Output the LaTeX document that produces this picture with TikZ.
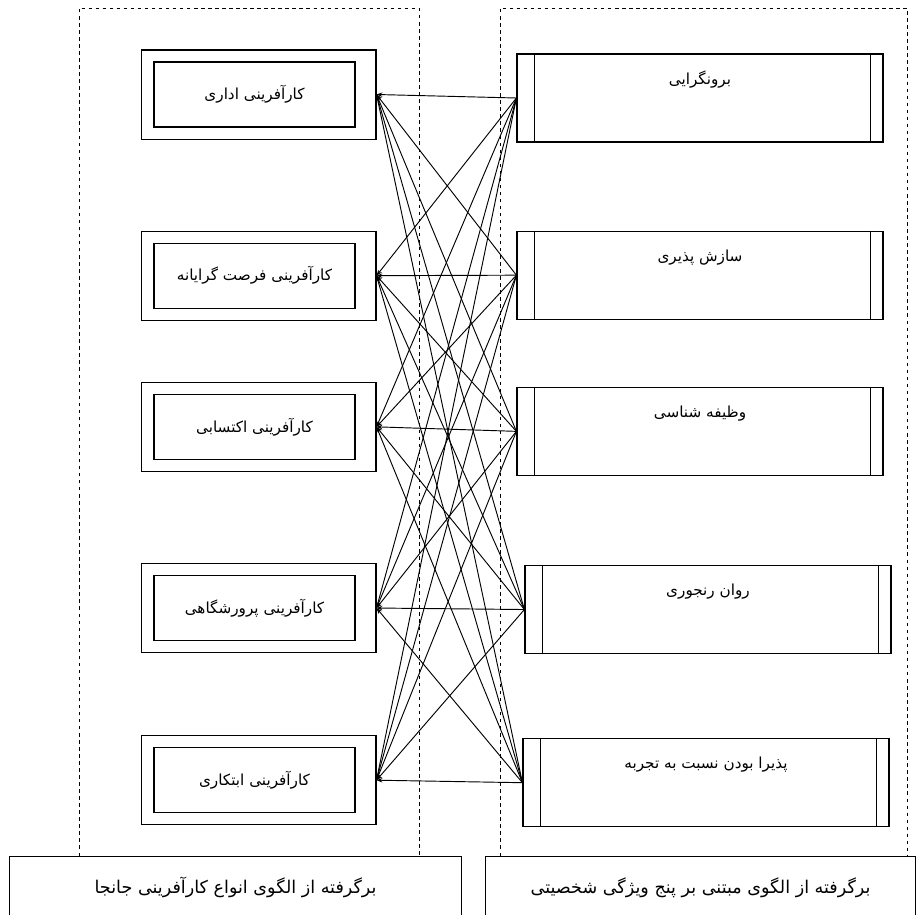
\documentclass[tikz,border=0pt]{standalone}
\usepackage{fontspec}
\newfontfamily\persianfont[Script=Arabic]{DejaVu Sans}
\TeXXeTstate=1
\newcommand{\fatxt}[1]{{\persianfont\beginR #1\endR}}
\usetikzlibrary{arrows.meta, positioning, fit}
\tikzset{
  kind/.style={rectangle, draw, line width=1pt, minimum width=6.03cm,
               minimum height=1.95cm, inner sep=0pt, align=center,
               font=\fontsize{13}{15}\selectfont},
  kindframe/.style={rectangle, draw, line width=1pt, xshift=0.13cm,
                    inner xsep=0.48cm, inner ysep=0.345cm},
  trait/.style={rectangle, draw, line width=1pt, minimum width=10.98cm,
                inner xsep=0pt, inner ysep=0.1cm, text height=0.8cm,
                text depth=1.64cm, font=\fontsize{13}{15}\selectfont},
  source/.style={rectangle, draw, line width=1pt, anchor=north west,
                 inner xsep=0pt, inner ysep=0.1cm, text height=1.0cm,
                 text depth=1.9cm, font=\fontsize{15}{17}\selectfont},
  link/.style={-{Stealth[length=5pt]}, line width=0.8pt},
  lane/.style={dashed, line width=0.7pt},
}
\begin{document}
\begin{tikzpicture}[node distance=2.5cm]
  \clip (0,0) rectangle (27.66,-27.42);

  %% ── DASHED LANES ─────────────────────────────────────────────────────────
  \draw[lane] (2.37,-25.68) rectangle (12.57,-0.24);
  \draw[lane] (15.0,-25.68) rectangle (27.21,-0.24);

  %% ── ENTREPRENEURSHIP TYPES (left column) ─────────────────────────────────
  \node[kind] (adminT) at (7.635,-2.835) {\fatxt{کارآفرینی اداری}};
  \node[kind, below=3.45cm of adminT] (oppoT)  {\fatxt{کارآفرینی فرصت گرایانه}};
  \node[kind, below=2.55cm of oppoT]  (acqT)   {\fatxt{کارآفرینی اکتسابی}};
  \node[kind, below=3.45cm of acqT]   (incubT) {\fatxt{کارآفرینی پرورشگاهی}};
  \node[kind, below=3.18cm of incubT] (innovT) {\fatxt{کارآفرینی ابتکاری}};

  \foreach \n in {admin, oppo, acq, incub, innov}{
    \node[kindframe, fit=(\n T)] (\n) {};
  }

  %% ── PERSONALITY TRAITS (right column) ────────────────────────────────────
  \node[trait] (ext) at (21.0,-2.94) {\fatxt{برونگرایی}};
  \node[trait, below=2.64cm of ext]             (agr) {\fatxt{سازش پذیری}};
  \node[trait, below=2.01cm of agr]             (con) {\fatxt{وظیفه شناسی}};
  \node[trait, below=2.67cm of con, xshift=0.24cm] (neu) {\fatxt{روان رنجوری}};
  \node[trait, below=2.52cm of neu, xshift=-0.06cm] (opn) {\fatxt{پذیرا بودن نسبت به تجربه}};

  \foreach \n in {ext, agr, con, neu, opn}{
    \draw[line width=1pt] ([xshift=0.55cm]\n.north west) -- ([xshift=0.55cm]\n.south west);
    \draw[line width=1pt] ([xshift=-0.4cm]\n.north east) -- ([xshift=-0.4cm]\n.south east);
  }

  %% ── LINKS: every trait → every type ──────────────────────────────────────
  \foreach \r in {ext, agr, con, neu, opn}{
    \foreach \l in {admin, oppo, acq, incub, innov}{
      \draw[link] (\r.west) -- (\l.east);
    }
  }

  %% ── SOURCES (bottom) ─────────────────────────────────────────────────────
  \node[source, minimum width=13.56cm] (jan) at (0.27,-25.68)
    {\fatxt{برگرفته از الگوی انواع کارآفرینی جانجا}};
  \node[source, minimum width=12.9cm] (big) at (14.55,-25.68)
    {\fatxt{برگرفته از الگوی مبتنی بر پنج ویژگی شخصیتی}};

\end{tikzpicture}
\end{document}
